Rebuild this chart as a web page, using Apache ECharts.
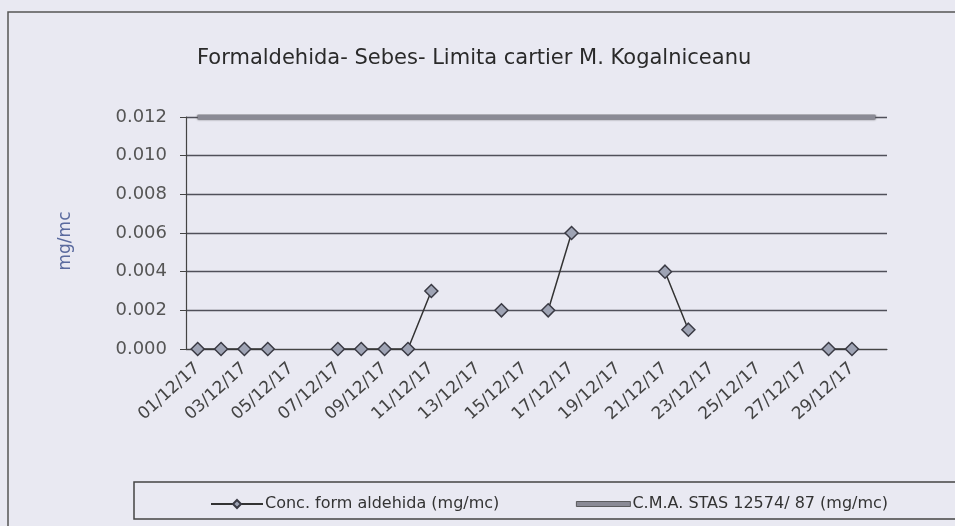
<!DOCTYPE html>
<html>
<head>
<meta charset="utf-8">
<script src="https://cdn.jsdelivr.net/npm/echarts@6/dist/echarts.min.js"></script>
<style>
html,body{margin:0;padding:0;background:#e9e9f2;}
#c{width:955px;height:526px;}
</style>
</head>
<body>
<div id="c"></div>
<script>
var categories = ["01/12/17","02/12/17","03/12/17","04/12/17","05/12/17","06/12/17","07/12/17","08/12/17","09/12/17","10/12/17",
"11/12/17","12/12/17","13/12/17","14/12/17","15/12/17","16/12/17","17/12/17","18/12/17","19/12/17","20/12/17",
"21/12/17","22/12/17","23/12/17","24/12/17","25/12/17","26/12/17","27/12/17","28/12/17","29/12/17","30/12/17"];
var concFormaldehida = [0,0,0,0,null,null,0,0,0,0,
0.003,null,null,0.002,null,0.002,0.006,null,null,null,
0.004,0.001,null,null,null,null,null,0,0,null];
var cmaStas = [0.012,0.012,0.012,0.012,0.012,0.012,0.012,0.012,0.012,0.012,
0.012,0.012,0.012,0.012,0.012,0.012,0.012,0.012,0.012,0.012,
0.012,0.012,0.012,0.012,0.012,0.012,0.012,0.012,0.012,0.012];
var seriesNames = ["Conc. form aldehida (mg/mc)", "C.M.A. STAS 12574/ 87 (mg/mc)"];
var titleText = "Formaldehida- Sebes- Limita cartier M. Kogalniceanu";
var yAxisName = "mg/mc";

var chart = echarts.init(document.getElementById('c'));
var font = "DejaVu Sans";
chart.setOption({
  backgroundColor: '#e9e9f2',
  animation: false,
  title: {
    text: titleText, left: 192, top: 43,
    textStyle: {fontFamily: font, fontSize: 21, fontWeight: 'normal', color: '#2a2a2a'}
  },
  graphic: [
    {type: 'rect', shape: {x: 8, y: 12, width: 960, height: 530}, style: {fill: 'none', stroke: '#555', lineWidth: 1.5}, z: -1},
    {type: 'rect', shape: {x: 134, y: 482, width: 830, height: 37}, style: {fill: 'none', stroke: '#444', lineWidth: 1.5}, z: -1}
  ],
  legend: [
    {data: [seriesNames[0]], left: 205, top: 491, itemWidth: 52, itemHeight: 10, itemGap: 4,
     textStyle: {fontFamily: font, fontSize: 16, color: '#333', padding: [0, 0, 0, -3]}},
    {data: [{name: seriesNames[1], icon: 'rect', itemStyle: {color: '#8a8a95', borderColor: '#444', borderWidth: 0.8}}],
     left: 571, top: 491, itemWidth: 54, itemHeight: 5,
     textStyle: {fontFamily: font, fontSize: 16, color: '#333', padding: [0, 0, 0, -3]}}
  ],
  grid: {left: 186, right: 68, top: 117, bottom: 177},
  xAxis: {
    type: 'category', data: categories, boundaryGap: true,
    axisLine: {lineStyle: {color: '#444', width: 1.2}},
    axisTick: {interval: 1, length: 6, lineStyle: {color: '#444'}},
    axisLabel: {interval: 1, rotate: 42, margin: 17, fontFamily: font, fontSize: 17, color: '#444'}
  },
  yAxis: {
    type: 'value', min: 0, max: 0.012, interval: 0.002,
    name: yAxisName, nameLocation: 'middle', nameGap: 112, nameRotate: 90,
    nameTextStyle: {fontFamily: font, fontSize: 17, color: '#5a6a9e', padding: [0, 16, 0, 0]},
    axisLine: {show: true, lineStyle: {color: '#444', width: 1.2}},
    axisTick: {show: true, length: 6, lineStyle: {color: '#444'}},
    axisLabel: {margin: 19, fontFamily: font, fontSize: 18, color: '#555',
      formatter: function (v) { return v.toFixed(3); }},
    splitLine: {lineStyle: {color: '#50505a', width: 1.3}}
  },
  series: [
    {name: seriesNames[0], type: 'line', data: concFormaldehida, connectNulls: false,
     symbol: 'diamond', symbolSize: 13,
     lineStyle: {color: '#333', width: 1.5},
     itemStyle: {color: '#9ea3b4', borderColor: '#3a3a44', borderWidth: 1.5}, z: 3},
    {name: seriesNames[1], type: 'line', data: cmaStas, symbol: 'none',
     lineStyle: {color: '#8a8a95', width: 5, shadowColor: '#333', shadowBlur: 2},
     itemStyle: {color: '#8a8a95'}, z: 2}
  ]
});
</script>
</body>
</html>
